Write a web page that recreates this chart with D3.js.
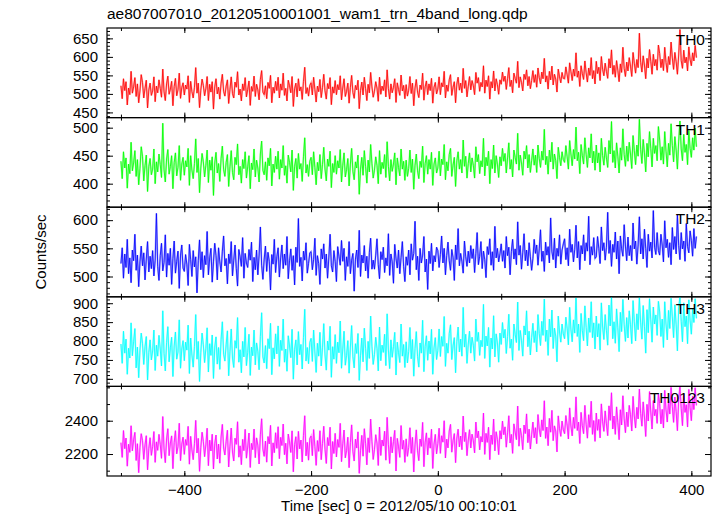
<!DOCTYPE html>
<html><head><meta charset="utf-8">
<script src="https://cdn.jsdelivr.net/npm/d3@7"></script>
<style>body{margin:0;background:#fff}svg{display:block}text{font-family:"Liberation Sans",Arial,sans-serif;fill:#000}</style>
</head><body><svg id="c" width="717" height="516"></svg>
<script>
const title = "ae807007010_20120510001001_wam1_trn_4band_long.qdp";
const xLabel = "Time [sec] 0 = 2012/05/10 00:10:01";
const yLabel = "Counts/sec";
const binStart = -500, binSize = 2;
const xTicks = [-400, -200, 0, 200, 400];
const panelNames = ["TH0", "TH1", "TH2", "TH3", "TH0123"];
const panelColors = ["#ff0000", "#00ff00", "#0000ff", "#00ffff", "#ff00ff"];
const yDomains = [[436, 678], [358, 518], [464, 623], [680, 917], [2068, 2606]];
const yMajor = [[450, 500, 550, 600, 650], [400, 450, 500], [500, 550, 600], [700, 750, 800, 850, 900], [2200, 2400]];
const yMinorStep = [10, 10, 10, 10, 100];

const th0 = [
522,487,541,509,533,470,516,498,561,502,519,544,493,527,476,508,552,531,489,515,537,462,511,529,496,
508,546,479,521,503,538,515,491,567,506,482,527,548,499,513,534,468,520,542,495,511,556,488,517,530,
497,524,513,549,477,534,506,489,518,571,502,529,463,510,540,523,495,514,547,482,526,505,533,459,519,
541,500,518,486,529,553,507,494,521,538,474,512,546,501,489,532,518,560,497,513,481,527,509,544,492,
512,535,469,520,507,548,493,526,511,484,539,563,505,498,522,487,531,515,550,476,518,502,534,509,545,
489,527,510,556,496,515,481,537,522,503,547,466,514,529,492,541,508,519,485,534,572,501,517,494,523,
530,497,545,512,478,521,506,539,490,517,553,508,486,528,514,544,471,519,502,536,498,525,511,549,484,
516,541,493,507,529,475,518,550,504,488,523,511,537,460,509,532,497,545,514,482,526,503,558,519,491,
507,533,516,480,545,499,521,509,538,492,565,514,486,527,503,518,541,477,530,512,496,551,508,523,487,
525,494,510,547,501,529,468,516,539,505,490,524,512,556,483,519,535,498,527,509,542,475,518,531,500,
513,546,498,530,519,561,489,524,507,538,552,496,518,533,476,527,545,510,529,503,569,515,536,492,521,
547,511,536,522,498,558,529,544,507,531,519,576,502,537,520,549,486,533,516,562,508,541,525,499,538,
526,559,534,548,512,541,571,520,537,503,556,542,529,588,517,546,531,508,553,539,565,522,547,514,536,
563,531,552,518,570,544,527,559,541,596,532,549,513,561,538,575,524,553,540,505,567,546,530,558,542,
541,573,552,529,584,560,536,567,548,611,545,562,520,576,555,539,589,557,532,570,550,598,541,563,527,
588,555,572,536,601,566,549,583,561,542,595,570,619,553,577,545,590,564,533,581,558,626,569,547,586,
562,598,575,547,612,583,556,593,571,664,585,559,603,578,541,596,570,620,588,553,607,576,593,564,632,
609,571,594,563,626,585,558,601,579,640,597,566,612,587,553,605,674,590,569,618,584,599,562,627,593,
576,611,589,631,598];

const th1 = [
440,409,457,428,446,392,435,418,474,423,437,459,413,443,398,427,466,449,405,432,451,386,431,445,416,
426,462,400,439,421,453,434,411,508,425,403,444,461,417,431,450,391,438,455,414,429,468,406,435,447,
415,441,430,463,397,450,424,409,436,480,420,445,384,428,454,439,412,433,460,402,442,424,448,379,437,
456,419,436,404,445,467,425,413,438,452,395,430,459,420,407,447,434,471,416,431,401,443,427,457,410,
430,450,391,437,425,462,412,442,428,403,453,476,424,416,439,406,446,432,463,396,435,420,449,426,458,
408,443,428,468,415,432,401,451,438,421,460,388,431,445,410,454,426,436,404,448,482,419,434,413,440,
447,416,457,429,398,438,423,452,409,434,465,426,405,444,431,458,393,436,420,450,417,441,428,461,403,
433,455,412,425,445,396,435,463,422,407,439,428,451,381,426,447,415,459,431,401,442,421,470,436,410,
424,448,433,400,459,417,438,427,452,411,475,431,405,443,422,435,455,398,446,429,414,462,426,440,406,
442,413,427,460,420,444,390,433,453,423,409,440,429,467,402,436,450,417,443,426,456,397,435,446,419,
428,458,414,444,434,470,407,439,423,452,463,413,433,447,395,441,457,426,443,419,478,431,449,410,436,
455,421,446,433,410,466,439,452,418,441,430,481,414,447,432,458,400,443,427,469,419,450,435,411,448,
432,463,440,454,419,446,473,426,443,412,460,447,435,490,424,451,437,415,458,444,468,428,452,420,441,
462,433,451,420,469,445,429,458,442,497,434,449,417,460,439,474,426,453,441,409,465,447,432,457,443,
438,468,448,426,477,453,432,461,444,501,441,456,418,470,450,435,482,452,429,464,446,489,437,458,424,
469,437,455,421,481,450,433,465,446,429,477,453,511,438,459,428,473,449,419,464,442,498,452,431,467,
440,474,453,427,486,459,434,469,449,515,461,436,479,455,421,472,448,493,463,430,481,454,468,441,502,
478,442,466,435,493,458,430,472,451,507,468,439,484,460,426,476,512,462,441,488,456,470,434,495,463,
447,482,460,499,466];

const th2 = [
523,551,497,540,516,566,505,533,489,547,528,575,511,538,482,526,554,519,542,494,531,562,508,536,514,
546,501,529,612,518,493,537,559,510,525,574,499,541,520,550,486,532,563,506,527,545,479,538,556,515,
509,539,522,484,557,530,500,546,517,535,471,528,565,512,544,498,537,521,580,503,533,550,490,526,559,
537,494,551,526,508,545,572,519,532,487,540,523,562,501,529,556,514,483,548,535,518,569,497,541,524,
516,548,529,561,491,534,512,547,503,538,588,520,495,531,554,509,543,527,476,539,522,566,507,535,551,
499,533,556,514,540,520,571,496,528,549,511,537,485,552,525,603,518,534,492,545,529,560,506,523,542,
544,512,530,568,502,537,523,486,549,531,558,515,540,497,533,575,519,508,546,527,491,553,536,520,564,
527,550,493,535,518,562,505,529,541,474,531,547,516,582,500,538,524,555,510,536,497,543,568,513,529,
513,538,567,521,496,544,530,552,507,533,519,576,502,540,526,488,557,532,515,547,505,534,562,518,491,
535,520,547,503,558,529,541,598,512,536,493,550,524,538,571,508,531,477,545,523,559,510,537,526,552,
546,516,539,572,524,550,503,537,561,528,511,548,534,493,556,530,585,519,541,527,506,563,535,518,545,
524,555,532,549,507,541,578,521,536,562,514,545,530,498,553,539,567,520,544,511,589,533,550,526,540,
558,527,546,515,571,537,552,503,544,566,531,549,521,597,538,555,513,542,576,528,547,519,560,535,511,
532,566,541,556,520,549,583,527,545,509,561,538,553,524,604,544,530,568,515,550,536,574,522,547,558,
567,530,551,519,584,543,557,526,548,591,533,562,512,555,540,574,528,560,545,607,521,553,538,569,532,
535,571,550,523,588,546,560,529,552,614,541,564,518,557,543,579,531,563,505,572,549,536,592,554,528,
570,537,555,528,595,549,563,522,556,606,540,567,531,584,550,516,575,545,561,533,617,552,539,578,546,
538,575,556,526,599,551,566,534,560,521,587,548,571,540,609,555,530,578,549,563,527,594,553,542,581,
564,536,585,550,571];

const th3 = [
792,741,826,768,805,712,781,755,848,761,798,833,729,784,703,776,821,794,738,785,812,697,770,803,750,
774,829,722,789,760,815,779,734,880,767,721,796,838,745,782,810,706,787,824,752,771,856,728,779,801,
748,797,776,842,714,808,763,731,786,870,752,799,693,769,821,790,743,780,835,718,793,762,816,701,784,
811,739,783,725,804,851,765,747,790,827,708,772,832,755,730,801,781,862,744,777,716,799,758,836,735,
770,818,709,784,761,829,737,795,773,724,812,875,758,742,788,727,806,780,847,711,782,753,819,766,840,
733,802,775,858,744,779,720,814,787,756,831,699,778,803,737,825,764,791,726,809,884,747,783,740,796,
807,746,829,771,717,794,760,823,734,782,846,763,723,800,776,839,704,785,752,817,741,797,769,853,728,
779,826,736,762,801,715,784,841,758,729,793,767,820,696,761,808,745,834,781,722,799,754,866,786,738,
764,810,781,721,837,748,789,770,818,735,872,776,727,803,757,785,823,710,797,769,743,845,760,791,730,
798,742,772,836,753,804,707,780,825,759,731,795,768,855,719,786,814,749,800,766,831,712,782,809,751,
775,832,759,812,786,865,733,794,768,820,843,751,787,809,716,799,837,771,805,760,889,784,818,741,792,
826,768,810,789,747,858,799,823,762,802,785,897,754,813,787,836,731,808,779,867,758,819,795,744,821,
791,849,808,831,767,812,871,781,805,749,845,818,796,903,775,828,802,760,840,816,880,785,826,763,809,
847,796,827,771,870,820,788,852,815,911,799,829,762,858,811,882,780,834,813,745,866,824,797,845,819,
806,863,834,790,889,830,798,856,821,914,812,845,770,873,828,801,893,836,787,861,823,904,809,848,779,
866,811,846,776,901,837,804,870,828,789,895,840,916,806,851,794,885,835,772,876,825,910,843,799,862,
808,880,843,793,907,851,800,872,830,915,848,805,894,839,768,883,822,912,856,797,890,845,869,815,905,
877,812,858,783,904,845,803,881,833,913,864,809,896,843,774,888,916,852,798,901,838,866,793,909,855,
818,885,849,912,860];

const th0123 = [
2268,2180,2341,2232,2296,2127,2259,2210,2370,2219,2285,2330,2161,2262,2088,2240,2322,2281,2168,2255,2310,2105,2234,2298,2192,
2246,2335,2150,2273,2222,2318,2257,2174,2425,2230,2148,2290,2352,2190,2266,2309,2112,2270,2340,2201,2244,2385,2160,2259,2301,
2198,2287,2252,2366,2139,2306,2225,2166,2263,2402,2206,2294,2096,2238,2331,2276,2184,2256,2355,2130,2283,2218,2319,2110,2262,
2314,2170,2260,2145,2302,2378,2236,2194,2277,2343,2122,2247,2356,2212,2158,2295,2258,2394,2181,2249,2136,2288,2220,2348,2175,
2242,2326,2119,2264,2226,2350,2178,2297,2253,2140,2315,2412,2229,2186,2278,2151,2305,2261,2372,2128,2267,2208,2328,2234,2364,
2172,2300,2251,2380,2196,2265,2141,2320,2272,2209,2339,2093,2257,2304,2170,2336,2231,2284,2152,2311,2430,2189,2270,2163,2293,
2308,2190,2347,2245,2132,2281,2216,2340,2166,2263,2367,2228,2143,2299,2250,2361,2110,2275,2203,2324,2182,2287,2240,2384,2154,
2262,2344,2177,2221,2301,2118,2270,2375,2215,2158,2289,2236,2333,2084,2220,2312,2187,2352,2265,2135,2297,2209,2410,2276,2167,
2226,2316,2266,2131,2362,2191,2284,2248,2337,2163,2420,2258,2143,2303,2207,2275,2342,2098,2294,2243,2180,2371,2229,2282,2150,
2291,2186,2239,2358,2204,2300,2092,2255,2345,2219,2160,2290,2246,2390,2124,2271,2327,2195,2297,2235,2349,2113,2260,2318,2201,
2262,2355,2204,2310,2271,2400,2176,2289,2237,2338,2378,2211,2280,2323,2148,2296,2349,2243,2308,2226,2428,2275,2330,2190,2284,
2346,2236,2319,2281,2207,2392,2297,2338,2225,2305,2272,2446,2198,2324,2270,2361,2166,2314,2258,2410,2219,2334,2288,2196,2340,
2290,2398,2316,2363,2241,2327,2430,2266,2318,2204,2381,2332,2286,2488,2247,2355,2310,2226,2374,2323,2441,2268,2349,2230,2315,
2392,2297,2358,2262,2437,2350,2303,2405,2341,2520,2294,2362,2250,2414,2331,2462,2280,2369,2338,2213,2429,2352,2306,2398,2345,
2322,2431,2374,2290,2477,2368,2309,2420,2354,2543,2341,2392,2263,2450,2370,2322,2492,2378,2295,2436,2360,2517,2318,2401,2276,
2446,2342,2408,2297,2501,2393,2336,2459,2381,2310,2489,2402,2568,2350,2428,2318,2483,2389,2286,2466,2374,2550,2411,2328,2452,
2364,2492,2436,2338,2546,2428,2356,2480,2411,2590,2444,2367,2513,2422,2305,2498,2398,2575,2452,2350,2521,2430,2468,2384,2560,
2503,2381,2468,2356,2582,2465,2392,2517,2440,2600,2486,2390,2542,2455,2340,2527,2605,2474,2370,2560,2450,2496,2362,2588,2478,
2400,2546,2467,2598,2492];

const series = [th0, th1, th2, th3, th0123];

const svg = d3.select("#c");
const L = 107, R = 711, T = 28, B = 476;
const ph = (B - T) / 5;
const x = d3.scaleLinear().domain([-522, 431]).range([L, R]);
const xMinor = d3.range(-500, 431, 100);

svg.append("text").attr("x", L).attr("y", 19).attr("font-size", 15.5).text(title);

series.forEach((vals, i) => {
  const top = T + i * ph, bot = top + ph;
  const y = d3.scaleLinear().domain(yDomains[i]).range([bot, top]);
  const g = svg.append("g");
  const cid = "clip" + i;
  svg.append("clipPath").attr("id", cid).append("rect")
    .attr("x", L).attr("y", top).attr("width", R - L).attr("height", ph);
  const line = d3.line().x((d, j) => x(binStart + j * binSize)).y(d => y(d));
  const dg = g.append("g").attr("clip-path", `url(#${cid})`);
  dg.append("path").datum(vals).attr("d", line).attr("fill", "none")
    .attr("stroke", panelColors[i]).attr("stroke-opacity", 0.35).attr("stroke-width", 1.8);
  dg.append("path").datum(vals).attr("d", line).attr("fill", "none")
    .attr("stroke", panelColors[i]).attr("stroke-width", 0.8);

  const minor = d3.range(Math.ceil(yDomains[i][0] / yMinorStep[i]) * yMinorStep[i], yDomains[i][1], yMinorStep[i]);
  const la = d3.axisLeft(y).tickValues(minor).tickSize(-3).tickFormat("");
  const lb = d3.axisLeft(y).tickValues(yMajor[i]).tickSize(-6).tickPadding(9).tickFormat(d3.format("d"));
  const ra = d3.axisRight(y).tickValues(minor).tickSize(-3).tickFormat("");
  const rb = d3.axisRight(y).tickValues(yMajor[i]).tickSize(-6).tickFormat("");
  [la, lb].forEach(a => g.append("g").attr("transform", `translate(${L},0)`).call(a));
  [ra, rb].forEach(a => g.append("g").attr("transform", `translate(${R},0)`).call(a));
  const ta = d3.axisTop(x).tickValues(xMinor).tickSize(-3).tickFormat("");
  const tb = d3.axisTop(x).tickValues(xTicks).tickSize(-5).tickFormat("");
  const ba = d3.axisBottom(x).tickValues(xMinor).tickSize(-3).tickFormat("");
  const bb = d3.axisBottom(x).tickValues(xTicks).tickSize(-5);
  [ta, tb].forEach(a => g.append("g").attr("transform", `translate(0,${top})`).call(a));
  g.append("g").attr("transform", `translate(0,${bot})`).call(ba);
  g.append("g").attr("transform", `translate(0,${bot})`)
    .call(i === 4 ? bb.tickPadding(8).tickFormat(d => d < 0 ? "\u2212" + Math.abs(d) : String(d)) : bb.tickFormat(""));
  g.selectAll(".domain").remove();
  g.selectAll(".tick line").attr("stroke", "#000").attr("stroke-width", 1);
  g.selectAll(".tick text").attr("font-size", 15).attr("font-family", "Liberation Sans, Arial, sans-serif").attr("fill", "#000");
  g.append("rect").attr("x", L).attr("y", top).attr("width", R - L).attr("height", ph)
    .attr("fill", "none").attr("stroke", "#000").attr("stroke-width", 1.2);
  g.append("text").attr("x", R - 6).attr("y", top + 17).attr("text-anchor", "end")
    .attr("font-size", 15.5).text(panelNames[i]);
});

svg.append("text").attr("transform", `translate(46,${(T + B) / 2}) rotate(-90)`)
  .attr("text-anchor", "middle").attr("font-size", 15).text(yLabel);
svg.append("text").attr("x", (L + R) / 2 - 10).attr("y", 511).attr("text-anchor", "middle")
  .attr("font-size", 15).text(xLabel);
</script></body></html>
